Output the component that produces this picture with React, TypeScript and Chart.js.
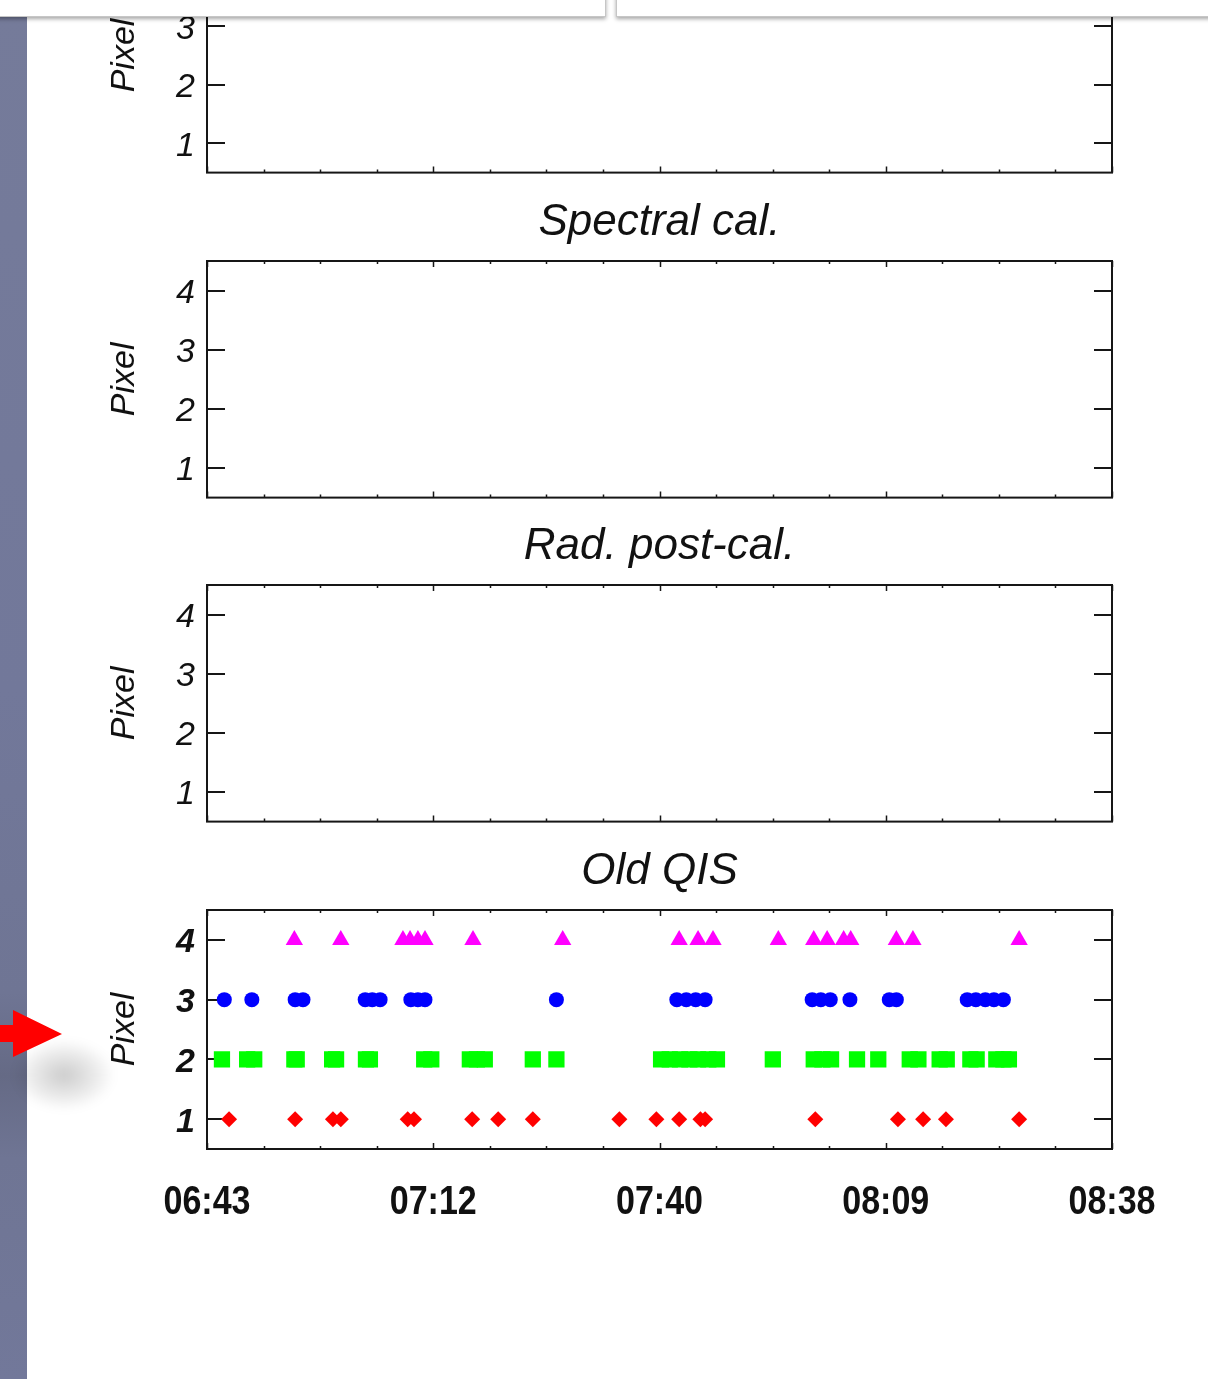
import React, { useEffect, useRef } from "react";
import { Chart, registerables } from "chart.js";

Chart.register(...registerables);

// ---------- data ----------
// x values: minutes after 06:43 (axis spans 06:43 .. 08:38)
const TIME_LABELS = ["06:43", "07:12", "07:40", "08:09", "08:38"];
const X_MIN = 0;
const X_MAX = 115;
const Y_TICKS = [1, 2, 3, 4];
const PANEL_TITLES = ["", "Spectral cal.", "Rad. post-cal.", "Old QIS"];
const Y_TITLE = "Pixel";

const pixel4Times = [11.1, 17.0, 24.9, 25.8, 26.8, 27.7, 33.8, 45.2, 60.0, 62.4, 64.3, 72.6, 77.1, 78.8, 80.9, 81.8, 87.6, 89.7, 103.2];
const pixel3Times = [2.2, 5.7, 11.2, 12.2, 20.1, 21.0, 22.0, 25.9, 26.8, 27.7, 44.4, 59.7, 60.9, 62.1, 63.3, 76.9, 78.0, 79.2, 81.7, 86.7, 87.6, 96.6, 97.7, 98.9, 100.0, 101.2];
const pixel2Times = [1.9, 5.1, 6.0, 11.1, 11.4, 15.9, 16.4, 20.2, 20.7, 27.6, 28.5, 33.4, 34.3, 35.3, 41.4, 44.4, 57.7, 58.8, 60.1, 61.3, 62.4, 63.7, 64.8, 71.9, 77.1, 78.2, 79.3, 82.6, 85.3, 89.3, 90.4, 93.1, 94.0, 97.0, 97.8, 100.3, 101.2, 101.9];
const pixel1Times = [2.8, 11.2, 16.0, 17.0, 25.5, 26.3, 33.7, 37.0, 41.4, 52.4, 57.1, 60.0, 62.7, 63.3, 77.3, 87.8, 91.0, 93.9, 103.2];

// ---------- layout ----------
const W = 1208;
const PLOT_LEFT = 207;
const PLOT_RIGHT = 1112;
const BOX_H = 239;
const BOX_TOPS = [-64, 261, 585, 910];
const FRAME = "#161616";
const FONT = "'Liberation Sans', Arial, Helvetica, sans-serif";

const idlFrame = {
  id: "idlFrame",
  beforeDatasetsDraw(chart: any) {
    const { ctx, chartArea: a, scales } = chart;
    const x = scales.x;
    const y = scales.y;
    ctx.save();
    ctx.strokeStyle = FRAME;
    ctx.lineWidth = 2;
    ctx.strokeRect(a.left, a.top, a.right - a.left, a.bottom - a.top);
    ctx.beginPath();
    y.ticks.forEach((t: any) => {
      const py = Math.round(y.getPixelForValue(t.value));
      ctx.moveTo(a.left, py);
      ctx.lineTo(a.left + 18, py);
      ctx.moveTo(a.right, py);
      ctx.lineTo(a.right - 18, py);
    });
    ctx.stroke();
    ctx.lineWidth = 1.5;
    ctx.beginPath();
    x.ticks.forEach((t: any, i: number) => {
      const px = Math.round(x.getPixelForValue(t.value)) + 0.5;
      const len = i % 4 === 0 ? 6 : 3;
      ctx.moveTo(px, a.bottom);
      ctx.lineTo(px, a.bottom - len);
      ctx.moveTo(px, a.top);
      ctx.lineTo(px, a.top + len);
    });
    ctx.stroke();
    ctx.restore();
  },
};

// condensed bold time labels under the x axis (IDL-like narrow glyphs)
const narrowTimeLabels = {
  id: "narrowTimeLabels",
  afterDraw(chart: any, _args: any, opts: any) {
    if (!opts || !opts.show) return;
    const { ctx, chartArea: a, scales } = chart;
    const x = scales.x;
    ctx.save();
    ctx.fillStyle = "#111";
    ctx.font = `bold 41px ${FONT}`;
    ctx.textAlign = "center";
    ctx.textBaseline = "middle";
    x.ticks.forEach((t: any, i: number) => {
      if (i % 4 !== 0) return;
      const px = x.getPixelForValue(t.value);
      ctx.save();
      ctx.translate(px, a.bottom + 54);
      ctx.scale(0.83, 1);
      ctx.fillText(TIME_LABELS[i / 4], 0, 0);
      ctx.restore();
    });
    ctx.restore();
  },
};

type PanelProps = { index: number; withData: boolean; showLabels: boolean };

function Panel({ index, withData, showLabels }: PanelProps) {
  const ref = useRef<HTMLCanvasElement | null>(null);
  const title = PANEL_TITLES[index];
  const topSpace = title ? 68 : 30;
  const bottomSpace = showLabels ? 120 : 30;
  const boxTop = BOX_TOPS[index];
  const height = topSpace + BOX_H + bottomSpace;
  const bold = withData;

  useEffect(() => {
    if (!ref.current) return;
    const datasets = withData
      ? [
          {
            label: "4",
            data: pixel4Times.map((t) => ({ x: t, y: 4 })),
            pointStyle: "triangle",
            pointRadius: 10,
            backgroundColor: "#ff00ff",
            borderColor: "#ff00ff",
            borderWidth: 0,
          },
          {
            label: "3",
            data: pixel3Times.map((t) => ({ x: t, y: 3 })),
            pointStyle: "circle",
            pointRadius: 7.5,
            backgroundColor: "#0000ff",
            borderColor: "#0000ff",
            borderWidth: 0,
          },
          {
            label: "2",
            data: pixel2Times.map((t) => ({ x: t, y: 2 })),
            pointStyle: "rect",
            pointRadius: 11.5,
            backgroundColor: "#00ff00",
            borderColor: "#00ff00",
            borderWidth: 0,
          },
          {
            label: "1",
            data: pixel1Times.map((t) => ({ x: t, y: 1 })),
            pointStyle: "rectRot",
            pointRadius: 8,
            backgroundColor: "#ff0000",
            borderColor: "#ff0000",
            borderWidth: 0,
          },
        ]
      : [];
    const chart = new Chart(ref.current, {
      type: "scatter",
      data: { datasets: datasets as any },
      plugins: [idlFrame, narrowTimeLabels],
      options: {
        responsive: false,
        animation: false,
        events: [],
        layout: { padding: { left: 0, right: W - PLOT_RIGHT, top: title ? 0 : topSpace, bottom: 0 } },
        plugins: {
          legend: { display: false },
          tooltip: { enabled: false },
          narrowTimeLabels: { show: showLabels },
          title: {
            display: !!title,
            fullSize: false,
            text: title,
            color: "#111",
            font: { family: FONT, size: 44, style: "italic", weight: "normal", lineHeight: 1.2 },
            padding: { top: 3, bottom: 12.2 },
          },
        },
        scales: {
          x: {
            type: "linear",
            position: "bottom",
            min: X_MIN,
            max: X_MAX,
            grid: { display: false, drawTicks: false },
            border: { display: false },
            afterBuildTicks: (s: any) => {
              const ticks = [];
              for (let i = 0; i <= 16; i++) ticks.push({ value: X_MIN + ((X_MAX - X_MIN) * i) / 16 });
              s.ticks = ticks;
            },
            afterFit: (s: any) => {
              s.height = bottomSpace;
            },
            ticks: { display: false, autoSkip: false, maxRotation: 0 },
          },
          y: {
            type: "linear",
            position: "left",
            min: 0.5,
            max: 4.5,
            grid: { display: false, drawTicks: false },
            border: { display: false },
            afterBuildTicks: (s: any) => {
              s.ticks = Y_TICKS.map((v) => ({ value: v }));
            },
            afterFit: (s: any) => {
              s.width = PLOT_LEFT;
            },
            ticks: {
              padding: 12,
              labelOffset: 3,
              color: "#111",
              font: { family: FONT, size: 34, style: "italic", weight: bold ? "bold" : "normal", lineHeight: 1.2 },
              callback: (v: any) => String(v),
            },
            title: {
              display: true,
              text: Y_TITLE,
              color: "#111",
              font: { family: FONT, size: 34, style: "italic", lineHeight: 1.2 },
              padding: { top: 104, bottom: 0 },
            },
          },
        },
      } as any,
    });
    return () => chart.destroy();
  }, [index, withData, showLabels]);

  return (
    <canvas
      ref={ref}
      width={W}
      height={height}
      style={{ position: "absolute", left: 0, top: boxTop - topSpace, width: W, height }}
    />
  );
}

export default function App() {
  return (
    <div
      style={{
        position: "absolute",
        left: 0,
        top: 0,
        width: W,
        height: 1379,
        overflow: "hidden",
        background: "#ffffff",
      }}
    >
      {/* left side strip */}
      <div
        style={{
          position: "absolute",
          left: 0,
          top: 0,
          width: 27,
          height: 1379,
          background:
            "linear-gradient(to bottom, #757b9a 0%, #72789a 50%, #6f7594 72%, #656a85 78%, #6f7594 84%, #72789a 100%)",
        }}
      />
      <Panel index={0} withData={false} showLabels={false} />
      <Panel index={1} withData={false} showLabels={false} />
      <Panel index={2} withData={false} showLabels={false} />
      <Panel index={3} withData={true} showLabels={true} />
      {/* soft shadow under arrow */}
      <div
        style={{
          position: "absolute",
          left: 14,
          top: 1040,
          width: 100,
          height: 70,
          background: "radial-gradient(ellipse at center, rgba(0,0,0,0.20) 0%, rgba(0,0,0,0.08) 45%, rgba(0,0,0,0) 72%)",
          filter: "blur(4px)",
        }}
      />
      {/* red arrow */}
      <div
        style={{
          position: "absolute",
          left: 0,
          top: 1010,
          width: 62,
          height: 47,
          background: "#ff0000",
          clipPath: "polygon(0px 15px, 13px 15px, 13px 0px, 62px 24px, 13px 47px, 13px 32px, 0px 32px)",
        }}
      />
      {/* top overlapping windows */}
      <div
        style={{
          position: "absolute",
          left: -4,
          top: -6,
          width: 608,
          height: 21,
          background: "#ffffff",
          border: "1px solid #c6c6c6",
          boxShadow: "0 2px 4px rgba(0,0,0,0.35)",
        }}
      />
      <div
        style={{
          position: "absolute",
          left: 616,
          top: -6,
          width: 600,
          height: 21,
          background: "#ffffff",
          border: "1px solid #c6c6c6",
          boxShadow: "0 2px 4px rgba(0,0,0,0.35)",
        }}
      />
    </div>
  );
}
